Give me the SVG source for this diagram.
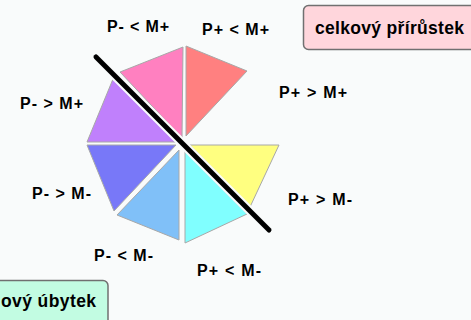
<svg xmlns="http://www.w3.org/2000/svg" width="471" height="320" viewBox="0 0 471 320">
<style>
.bg{fill:#f9fbfb}
.sl{stroke:#a8a8a8;stroke-width:1;stroke-linejoin:round}
.lb{font-family:"Liberation Sans",Arial,sans-serif;font-weight:bold;font-size:16px;fill:#000}
.bx{font-family:"Liberation Sans",Arial,sans-serif;font-weight:bold;font-size:17.5px;fill:#000}
.box{stroke:#707070;stroke-width:1.5}
</style>
<rect class="bg" x="0" y="0" width="471" height="320"/>
<g id="slice-pm-lt-mplus"><polygon class="sl" fill="#ff80c0" points="183,47 120,72 182,138"/></g>
<g id="slice-pp-lt-mplus"><polygon class="sl" fill="#ff8080" points="186,46 247,71 186,136"/></g>
<g id="slice-pp-gt-mminus"><polygon class="sl" fill="#ffff80" points="190,145 279,145 250,207"/></g>
<g id="slice-pp-lt-mminus"><polygon class="sl" fill="#80ffff" points="185,151 247,214 185,243"/></g>
<g id="slice-pm-lt-mminus"><polygon class="sl" fill="#80c0f8" points="179,150 117,215 179,240"/></g>
<g id="slice-pm-gt-mminus"><polygon class="sl" fill="#7878f8" points="87,145 176,145 114,211"/></g>
<g id="slice-pm-gt-mplus"><polygon class="sl" fill="#c080fc" points="113,79 87,142 177,142"/></g>
<g id="connectors">
<line x1="96" y1="57" x2="269" y2="230" stroke="#fafcfc" stroke-width="9" stroke-linecap="round"/>
<line x1="96" y1="57" x2="269" y2="230" stroke="#000" stroke-width="5" stroke-linecap="round"/>
</g>
<g id="labels">
<text class="lb" x="107" y="32" textLength="62" lengthAdjust="spacing">P- &lt; M+</text>
<text class="lb" x="202" y="35" textLength="67" lengthAdjust="spacing">P+ &lt; M+</text>
<text class="lb" x="279" y="98" textLength="68" lengthAdjust="spacing">P+ &gt; M+</text>
<text class="lb" x="288" y="205" textLength="64" lengthAdjust="spacing">P+ &gt; M-</text>
<text class="lb" x="20" y="109" textLength="63" lengthAdjust="spacing">P- &gt; M+</text>
<text class="lb" x="32" y="199" textLength="59" lengthAdjust="spacing">P- &gt; M-</text>
<text class="lb" x="94" y="260.5" textLength="59" lengthAdjust="spacing">P- &lt; M-</text>
<text class="lb" x="197" y="275.5" textLength="64" lengthAdjust="spacing">P+ &lt; M-</text>
</g>
<g id="box-prirustek">
<rect class="box" x="303.5" y="5.5" width="185" height="44" rx="5" fill="#ffd6dc"/>
<text class="bx" x="315" y="33.5" textLength="149" lengthAdjust="spacing">celkový přírůstek</text>
</g>
<g id="box-ubytek">
<rect class="box" x="-80" y="280.5" width="188" height="60" rx="5" fill="#c2fce2"/>
<text class="bx" x="1" y="306.5" textLength="95" lengthAdjust="spacing">ový úbytek</text>
</g>
</svg>
